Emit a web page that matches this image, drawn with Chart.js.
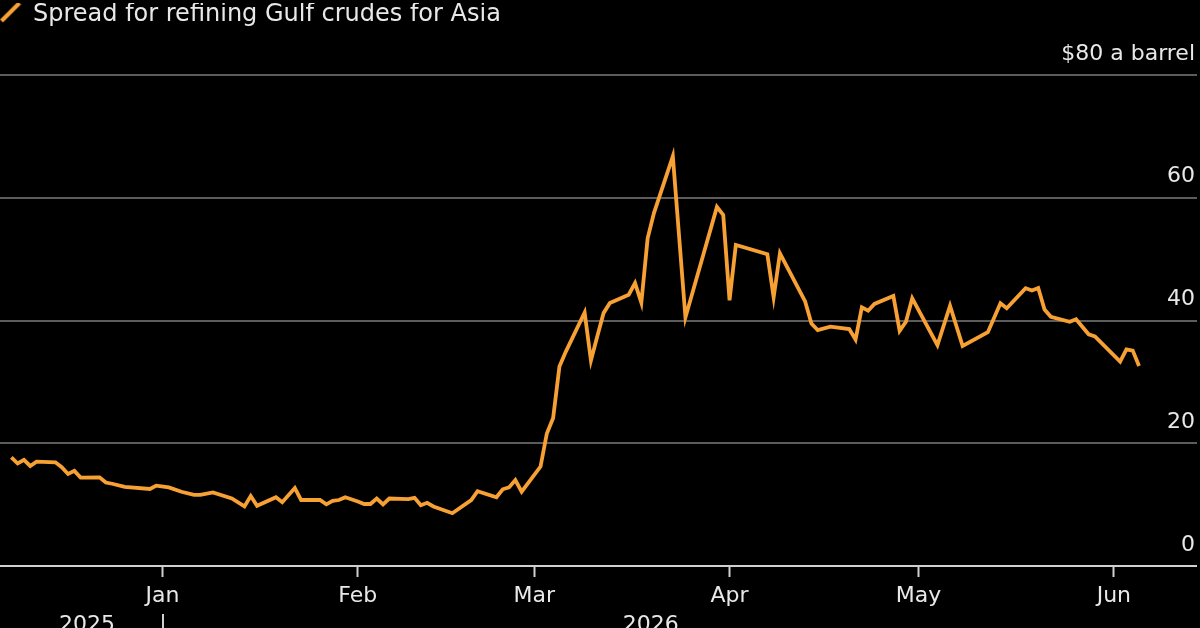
<!DOCTYPE html>
<html>
<head>
<meta charset="utf-8">
<script src="https://cdn.jsdelivr.net/npm/chart.js@4.4.1/dist/chart.umd.min.js"></script>
<style>
  html, body { margin: 0; padding: 0; background: #000; }
</style>
</head>
<body>
<canvas id="spreadChart" width="1200" height="628"></canvas>
<script>
// series: Gulf crude refining spread, $ a barrel
const seriesName = 'Spread for refining Gulf crudes for Asia';
const dates = [
  '2025-12-08', '2025-12-09', '2025-12-10', '2025-12-11', '2025-12-12', '2025-12-15',
  '2025-12-16', '2025-12-17', '2025-12-18', '2025-12-19', '2025-12-22', '2025-12-23',
  '2025-12-24', '2025-12-26', '2025-12-30', '2025-12-31',
  '2026-01-02', '2026-01-04', '2026-01-06', '2026-01-07', '2026-01-09', '2026-01-12',
  '2026-01-14', '2026-01-15', '2026-01-16', '2026-01-19', '2026-01-20', '2026-01-22',
  '2026-01-23', '2026-01-26', '2026-01-27', '2026-01-28', '2026-01-29', '2026-01-30',
  '2026-02-01', '2026-02-02', '2026-02-03', '2026-02-04', '2026-02-05', '2026-02-06',
  '2026-02-09', '2026-02-10', '2026-02-11', '2026-02-12', '2026-02-13', '2026-02-16',
  '2026-02-19', '2026-02-20', '2026-02-23', '2026-02-24', '2026-02-25', '2026-02-26',
  '2026-02-27', '2026-03-02', '2026-03-03', '2026-03-04', '2026-03-05', '2026-03-06',
  '2026-03-09', '2026-03-10', '2026-03-11', '2026-03-12', '2026-03-13', '2026-03-16',
  '2026-03-17', '2026-03-18', '2026-03-19', '2026-03-20', '2026-03-23', '2026-03-25',
  '2026-03-30', '2026-03-31', '2026-04-01', '2026-04-02', '2026-04-07', '2026-04-08',
  '2026-04-09', '2026-04-13', '2026-04-14', '2026-04-15', '2026-04-17', '2026-04-20',
  '2026-04-21', '2026-04-22', '2026-04-23', '2026-04-24', '2026-04-27', '2026-04-28',
  '2026-04-29', '2026-04-30', '2026-05-04', '2026-05-06', '2026-05-08', '2026-05-12',
  '2026-05-14', '2026-05-15', '2026-05-18', '2026-05-19', '2026-05-20', '2026-05-21',
  '2026-05-22', '2026-05-25', '2026-05-26', '2026-05-28', '2026-05-29', '2026-06-02',
  '2026-06-03', '2026-06-04', '2026-06-05'
];
const spread = [
  17.7, 16.7, 17.3, 16.3, 17.0, 16.9,
  16.1, 15.0, 15.5, 14.4, 14.45, 13.6,
  13.4, 12.9, 12.55, 13.1,
  12.8, 12.1, 11.6, 11.6, 12.0, 11.0,
  9.7, 11.4, 9.8, 11.2, 10.4, 12.7,
  10.75, 10.75, 10.05, 10.6, 10.75, 11.2,
  10.5, 10.1, 10.1, 11.0, 10.05, 11.0,
  10.9, 11.1, 9.9, 10.3, 9.7, 8.6,
  10.75, 12.2, 11.2, 12.5, 12.8, 14.0,
  12.1, 16.2, 21.6, 24.1, 32.5, 34.9,
  41.3, 33.5, 37.4, 41.2, 42.85, 44.2,
  46.1, 42.9, 53.4, 57.5, 66.75, 40.5,
  58.5, 57.2, 43.3, 52.3, 50.8, 43.8,
  50.95, 43.1, 39.5, 38.45, 39.0, 38.6,
  36.9, 42.15, 41.6, 42.7, 44.0, 38.3,
  39.8, 43.6, 36.0, 42.4, 35.85, 38.1,
  42.8, 42.0, 45.25, 44.9, 45.3, 41.8,
  40.6, 39.8, 40.2, 37.75, 37.4, 33.3,
  35.3, 35.1, 32.6
];
const monthTicks = ['2026-01-01', '2026-02-01', '2026-03-01', '2026-04-01', '2026-05-01', '2026-06-01'];
const monthLabels = ['Jan', 'Feb', 'Mar', 'Apr', 'May', 'Jun'];
const yearStart = '2026-01-01';
const yearLabels = ['2025', '2026'];
const yTicks = [0, 20, 40, 60, 80];
const yTickLabels = ['0', '20', '40', '60', '$80 a barrel'];

const lineColor = '#f7a033';
const textColor = '#e8e8e8';
const fontFamily = "'DejaVu Sans', 'Liberation Sans', sans-serif";

// days from 1 Jan 2026
function dayOf(s) {
  const p = s.split('-').map(Number);
  return (Date.UTC(p[0], p[1] - 1, p[2]) - Date.UTC(2026, 0, 1)) / 86400000;
}

const points = dates.map((d, i) => ({ x: dayOf(d), y: spread[i] }));

function slashIcon() {
  const c = document.createElement('canvas');
  c.width = 22;
  c.height = 30;
  const g = c.getContext('2d');
  g.strokeStyle = lineColor;
  g.lineWidth = 4;
  g.beginPath();
  g.moveTo(2, 21);
  g.lineTo(20, 3);
  g.stroke();
  return c;
}
const slash = slashIcon();

// legend sits at the very top, chart area starts lower
const legendTop = {
  id: 'legendTop',
  afterLayout(chart) {
    const l = chart.legend;
    const h = l.bottom - l.top;
    l.top = 3;
    l.bottom = 3 + h;
  }
};

// year row under the month labels
const yearRow = {
  id: 'yearRow',
  afterDraw(chart) {
    const x = chart.scales.x;
    const ctx = chart.ctx;
    const split = dayOf(yearStart);
    const first = points[0].x;
    const last = points[points.length - 1].x;
    const px = x.getPixelForValue(split);
    ctx.save();
    ctx.fillStyle = textColor;
    ctx.font = '22px ' + fontFamily;
    ctx.textAlign = 'center';
    ctx.textBaseline = 'alphabetic';
    ctx.fillText(yearLabels[0], x.getPixelForValue((first + split) / 2), 631);
    ctx.fillText(yearLabels[1], x.getPixelForValue((split + last) / 2), 631);
    ctx.strokeStyle = '#cfcfcf';
    ctx.lineWidth = 2;
    ctx.beginPath();
    ctx.moveTo(Math.round(px), 614);
    ctx.lineTo(Math.round(px), 628);
    ctx.stroke();
    ctx.restore();
  }
};

new Chart(document.getElementById('spreadChart'), {
  type: 'line',
  data: {
    datasets: [{
      label: seriesName,
      data: points,
      borderColor: lineColor,
      backgroundColor: lineColor,
      borderWidth: 3.8,
      pointRadius: 0,
      tension: 0
    }]
  },
  options: {
    responsive: false,
    devicePixelRatio: 1,
    animation: false,
    layout: { padding: 0 },
    plugins: {
      legend: {
        position: 'top',
        align: 'start',
        labels: {
          color: textColor,
          font: { family: fontFamily, size: 24 },
          usePointStyle: true,
          pointStyleWidth: 21,
          padding: 0,
          generateLabels(chart) {
            return Chart.defaults.plugins.legend.labels.generateLabels(chart)
              .map(l => Object.assign(l, { pointStyle: slash }));
          }
        }
      },
      tooltip: { enabled: false }
    },
    scales: {
      x: {
        type: 'linear',
        min: -25.8,
        max: 164.2,
        afterBuildTicks(scale) {
          scale.ticks = monthTicks.map(m => ({ value: dayOf(m) }));
        },
        afterFit(scale) {
          scale.height = 62;
        },
        ticks: {
          color: textColor,
          font: { family: fontFamily, size: 22 },
          padding: 6,
          maxRotation: 0,
          autoSkip: false,
          callback(v) {
            const i = monthTicks.findIndex(m => dayOf(m) === v);
            return i >= 0 ? monthLabels[i] : '';
          }
        },
        grid: {
          drawOnChartArea: false,
          drawTicks: true,
          tickLength: 11,
          tickColor: '#cfcfcf',
          tickWidth: 2
        },
        border: { display: false }
      },
      y: {
        position: 'right',
        min: 0,
        max: 80,
        afterBuildTicks(scale) {
          scale.ticks = yTicks.map(v => ({ value: v }));
        },
        afterFit(scale) {
          scale.width = 3;
          scale.paddingTop = 75;
        },
        ticks: {
          mirror: true,
          color: textColor,
          font: { family: fontFamily, size: 22 },
          padding: -2,
          labelOffset: -21,
          callback(v) {
            const i = yTicks.indexOf(v);
            return i >= 0 ? yTickLabels[i] : '';
          }
        },
        grid: {
          drawTicks: false,
          lineWidth: 2,
          color: ctx => (ctx.tick && ctx.tick.value === 0 ? '#cfcfcf' : '#5c5c5c')
        },
        border: { display: false }
      }
    }
  },
  plugins: [legendTop, yearRow]
});
</script>
</body>
</html>
